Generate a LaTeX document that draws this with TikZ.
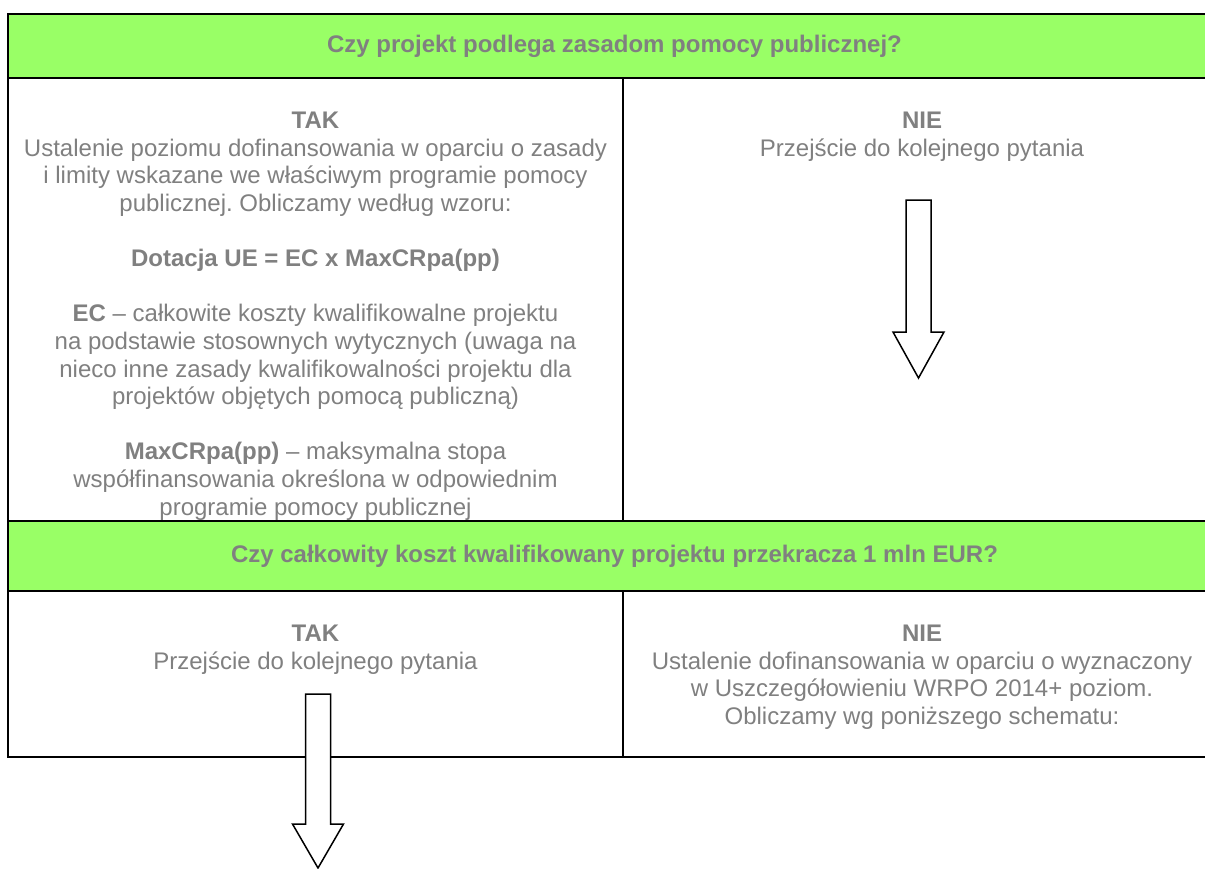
\documentclass[tikz,border=0pt]{standalone}
\usepackage{fontspec}
\setmainfont{Liberation Sans}
\usepackage{xcolor}
\usepackage{tikz}
\usetikzlibrary{positioning}
\definecolor{bandgreen}{HTML}{99FF66}
\definecolor{txtgray}{HTML}{808080}
\tikzstyle{cell} = [rectangle, draw=black, line width=2pt, inner sep=0pt, fill=white]
\tikzstyle{question} = [cell, fill=bandgreen, minimum width=1213pt, text=txtgray, font=\fontsize{24}{27.6}\selectfont\bfseries]
\tikzstyle{answer} = [align=center, inner sep=0pt, text=txtgray]
\tikzstyle{blockarrow} = [draw=black, line width=1.5pt, fill=white, line join=miter]
\frenchspacing

\begin{document}
\begin{tikzpicture}[x=1pt, y=-1pt, font=\fontsize{24}{27.6}\selectfont]
	
	\clip (0,0) rectangle (1205,868);
	
	% first question
	\node (c1l) [cell, minimum width=615pt, minimum height=443pt] at (315.5,299.5) {};
	\node (c1r) [cell, minimum width=598pt, minimum height=443pt] at (922,299.5) {};
	\node (q1) [question, minimum height=64pt] at (614.5,46) {Czy projekt podlega zasadom pomocy publicznej?};
	
	\node (tak1) [answer, below=35pt of c1l.north] {\textbf{TAK}\\
		Ustalenie poziomu dofinansowania w oparciu o zasady\\
		i limity wskazane we właściwym programie pomocy\\
		publicznej. Obliczamy według wzoru:\\[27.6pt]
		\textbf{Dotacja UE = EC x MaxCRpa(pp)}\\[27.6pt]
		\textbf{EC} – całkowite koszty kwalifikowalne projektu\\
		na podstawie stosownych wytycznych (uwaga na\\
		nieco inne zasady kwalifikowalności projektu dla\\
		projektów objętych pomocą publiczną)\\[27.6pt]
		\textbf{MaxCRpa(pp)} – maksymalna stopa\\
		współfinansowania określona w odpowiednim\\
		programie pomocy publicznej};
	\node (nie1) [answer, below=35pt of c1r.north] {\textbf{NIE}\\
		Przejście do kolejnego pytania};
	
	% second question
	\node (c2l) [cell, minimum width=615pt, minimum height=166pt] at (315.5,674) {};
	\node (c2r) [cell, minimum width=598pt, minimum height=166pt] at (922,674) {};
	\node (q2) [question, minimum height=70pt] at (614.5,556) {Czy całkowity koszt kwalifikowany projektu przekracza 1 mln EUR?};
	
	\node (tak2) [answer, below=35pt of c2l.north] {\textbf{TAK}\\
		Przejście do kolejnego pytania};
	\node (nie2) [answer, below=35pt of c2r.north] {\textbf{NIE}\\
		Ustalenie dofinansowania w oparciu o wyznaczony\\
		w Uszczegółowieniu WRPO 2014+ poziom.\\
		Obliczamy wg poniższego schematu:};
	
	% block arrows
	\draw [blockarrow] (906,200) -- ++(25,0) -- ++(0,132) -- ++(13,0) -- ++(-25.5,46) -- ++(-25.5,-46) -- ++(13,0) -- cycle;
	\draw [blockarrow] (305.5,694) -- ++(25,0) -- ++(0,130) -- ++(13,0) -- ++(-25.5,44) -- ++(-25.5,-44) -- ++(13,0) -- cycle;
	
\end{tikzpicture}
\end{document}
